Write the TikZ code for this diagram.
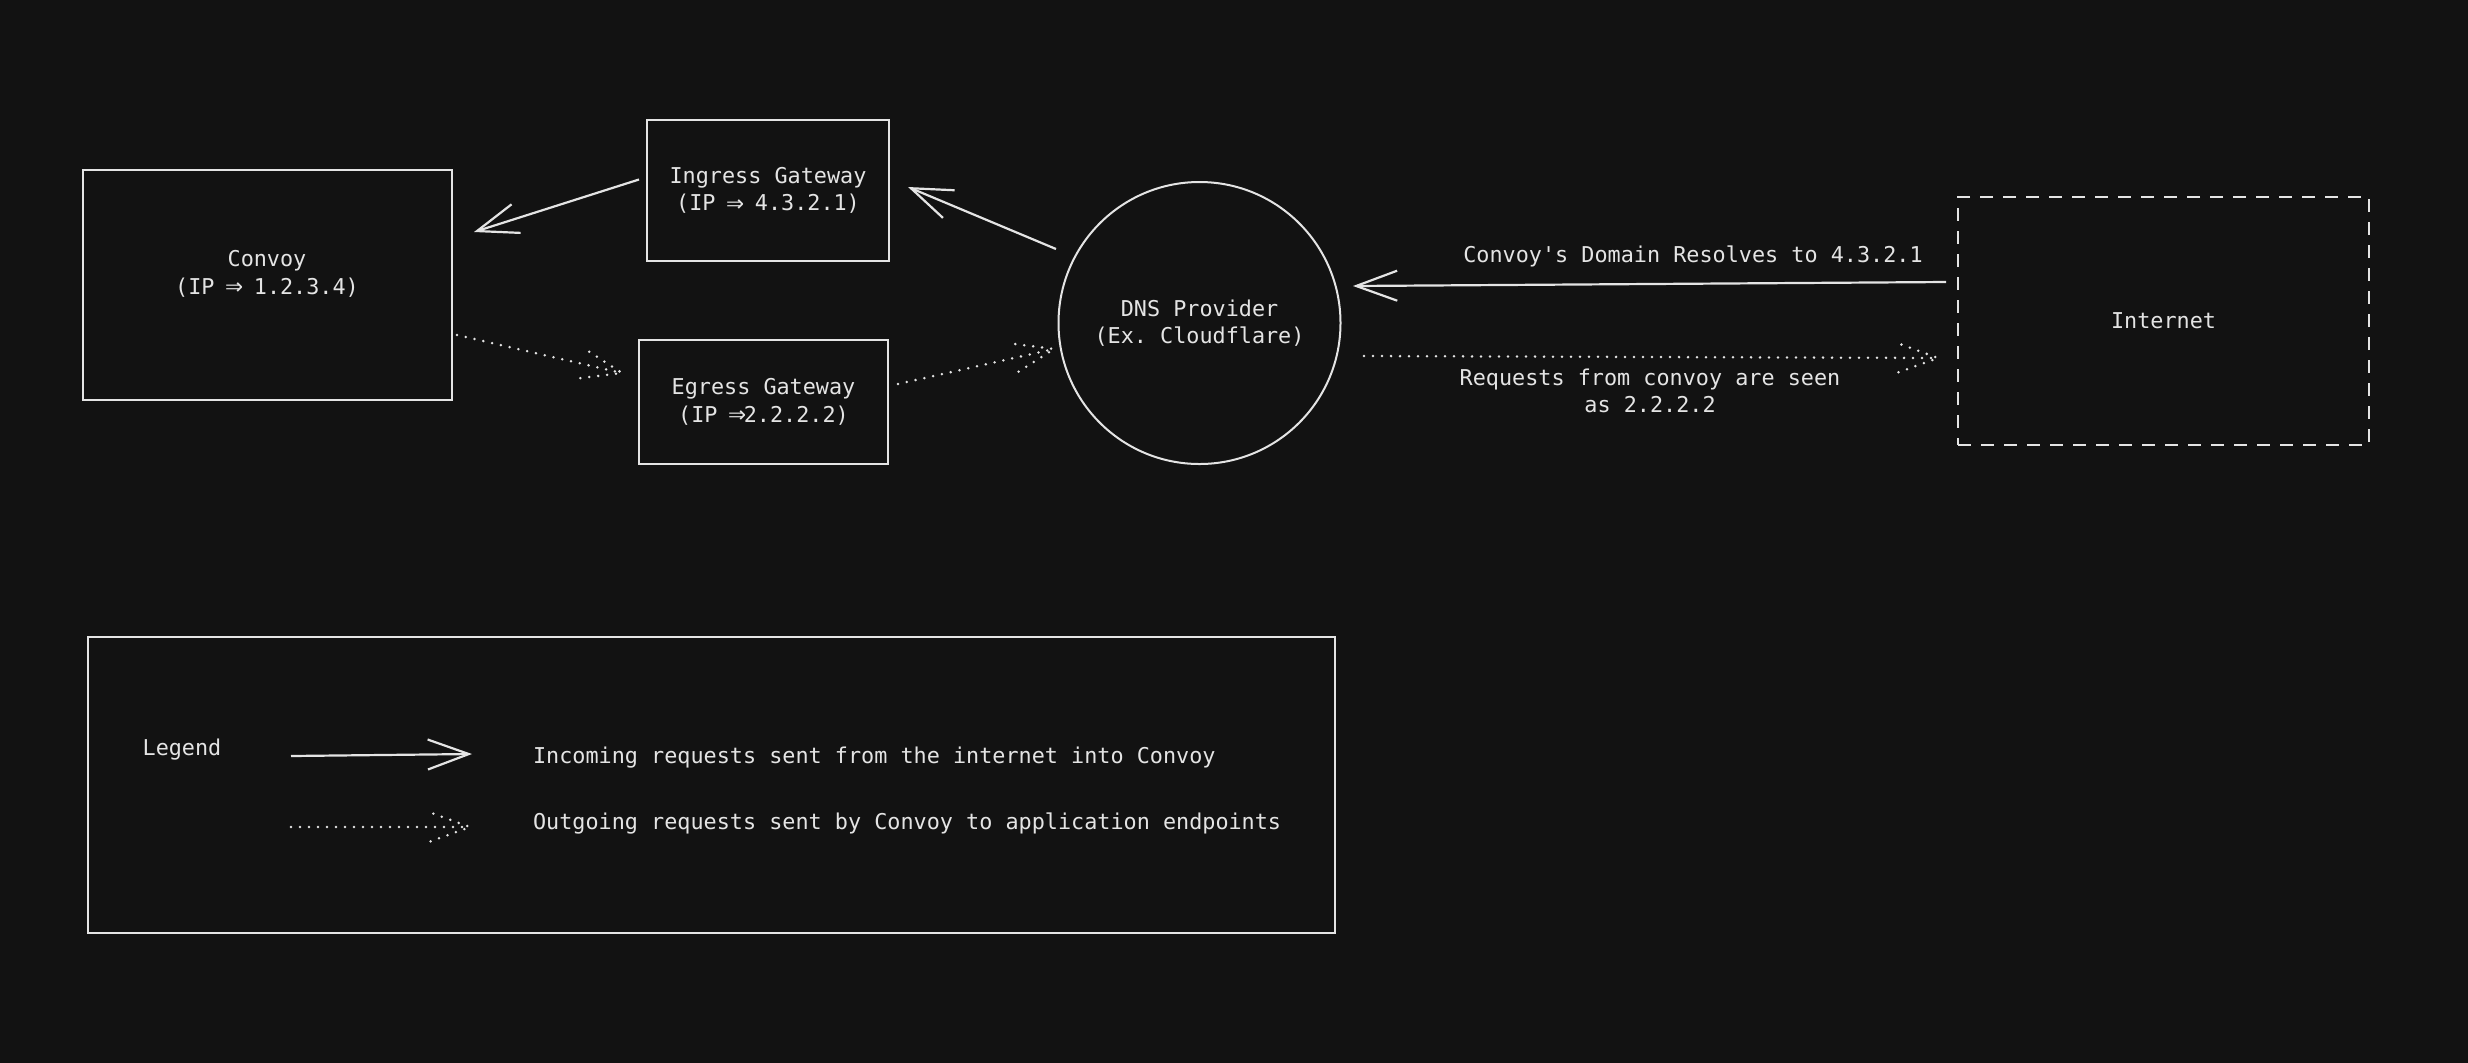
\documentclass[tikz,border=0pt]{standalone}
\usepackage{fontspec}
\usepackage{graphicx}
\setmonofont{DejaVu Sans Mono}
\usetikzlibrary{arrows.meta,calc}
\definecolor{bg}{HTML}{121212}
\definecolor{ink}{HTML}{E4E4E4}
\newcommand\dotbarbs[2]{\draw[dotline] ($(#1)!21pt!20:(#2)$) -- (#1) -- ($(#1)!21pt!-20:(#2)$);}
\newcommand\implies{\makebox[0.602em][c]{\raisebox{-0.1ex}{\scalebox{1.35}{⇒}}}}
\begin{document}
\begin{tikzpicture}[x=0.5pt,y=-0.5pt,
  every node/.style={font=\ttfamily\fontsize{10.9}{13.7}\selectfont, text=ink},
  box/.style={draw=ink, line width=1pt, rectangle, inner sep=0pt},
  inarrow/.style={draw=ink, line width=1.1pt, -{Straight Barb[length=20.5pt,width=15pt]}},
  dotline/.style={draw=ink, line width=1.4pt, line cap=round, dash pattern=on 0pt off 4.5pt},
]
\useasboundingbox (0,0) rectangle (2468,1062);
\fill[bg] (-20,-20) rectangle (2488,1082);

% nodes
\node[box, minimum width=184.5pt, minimum height=115pt] (convoy) at (267.5,285) {};
\node[align=center] (convoytext) at (267,274) {Convoy\\(IP \implies{} 1.2.3.4)};
\node[box, minimum width=121pt, minimum height=70.5pt, align=center] (ingress) at (768,190.5) {Ingress Gateway\\(IP \implies{} 4.3.2.1)};
\node[box, minimum width=124.5pt, minimum height=62pt, align=center] (egress) at (763.5,402) {Egress Gateway\\(IP \implies{}2.2.2.2)};
\node[box, circle, minimum size=141pt, align=center] (dns) at (1199.5,323) {DNS Provider\\(Ex. Cloudflare)};
\node[box, dash pattern=on 6.5pt off 5pt, minimum width=205.5pt, minimum height=124pt] (internet) at (2163.5,321) {Internet};
\node[box, minimum width=623.5pt, minimum height=148pt] (legend) at (711.5,785) {};

% endpoints
\coordinate (a1s) at ($(ingress.west)+(-7,-11)$);
\coordinate (a1e) at ($(convoy.east)+(21,-53)$);
\coordinate (d1s) at ($(convoy.east)+(4,50)$);
\coordinate (d1e) at ($(egress.west)+(-16,-29)$);
\coordinate (a2s) at ($(dns.center)+(-143.5,-74)$);
\coordinate (a2e) at ($(ingress.east)+(18,-3.5)$);
\coordinate (d2s) at ($(egress.east)+(9,-18)$);
\coordinate (d2e) at ($(dns.west)+(-3.5,26)$);
\coordinate (a3s) at ($(internet.west)+(-11,-39)$);
\coordinate (a3e) at ($(dns.east)+(11.5,-37)$);
\coordinate (d3s) at ($(dns.east)+(22.5,33)$);
\coordinate (d3e) at ($(internet.west)+(-19,37)$);

% connectors
\draw[inarrow] (a1s) -- (a1e);
\draw[inarrow] (a2s) -- (a2e);
\draw[inarrow] (a3s) -- (a3e);
\draw[dotline] (d1s) -- (d1e); \dotbarbs{d1e}{d1s}
\draw[dotline] (d2s) -- (d2e); \dotbarbs{d2e}{d2s}
\draw[dotline] (d3s) -- (d3e); \dotbarbs{d3e}{d3s}

% labels
\node (lbl1) at (1693,256) {Convoy's Domain Resolves to 4.3.2.1};
\node[align=center] (lbl2) at (1650,391) {Requests from convoy are seen\\as 2.2.2.2};

% legend
\node (legtitle) at (182,750) {Legend};
\coordinate (l1s) at (291,756);
\coordinate (l1e) at (472,754);
\coordinate (l2s) at (291,827);
\coordinate (l2e) at (470,827);
\draw[inarrow] (l1s) -- (l1e);
\draw[dotline] (l2s) -- (l2e); \dotbarbs{l2e}{l2s}
\node[anchor=west] (legtext1) at (526,758) {Incoming requests sent from the internet into Convoy};
\node[anchor=west] (legtext2) at (526,823) {Outgoing requests sent by Convoy to application endpoints};
\end{tikzpicture}
\end{document}
